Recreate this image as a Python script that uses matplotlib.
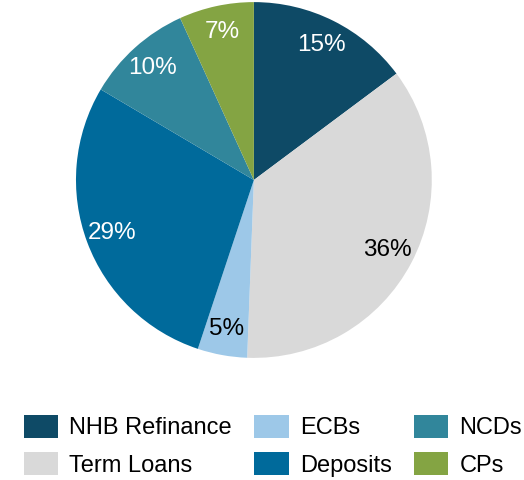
import numpy as np
import matplotlib.pyplot as plt

plt.rcParams['font.family'] = ['Liberation Sans', 'DejaVu Sans']

# funding mix (% share)
sources = ["NHB Refinance", "Term Loans", "ECBs", "Deposits", "NCDs", "CPs"]
shares = [14.8, 35.8, 4.5, 28.4, 9.7, 6.8]
share_labels = ["15%", "36%", "5%", "29%", "10%", "7%"]
colors = ["#0e4a66", "#d9d9d9", "#9dc8e8", "#006a9b", "#31869b", "#84a443"]
text_colors = ["white", "black", "black", "white", "white", "white"]

fig = plt.figure(figsize=(5.24, 4.8), dpi=100)
ax = fig.add_axes([0.145, 0.254, 0.679, 0.742])

wedges, texts = ax.pie(shares, colors=colors, startangle=90, counterclock=False,
                       radius=1.0, wedgeprops=dict(linewidth=0))
ax.set_xlim(-1, 1)
ax.set_ylim(-1, 1)
ax.set_aspect('equal')

for w, lab, tc in zip(wedges, share_labels, text_colors):
    ang = np.deg2rad((w.theta1 + w.theta2) / 2)
    r = 0.85
    ax.text(r * np.cos(ang), r * np.sin(ang), lab, ha='center', va='center',
            color=tc, fontsize=17.5)

fig.legend(wedges, sources, ncol=3, loc='upper left',
           bbox_to_anchor=(24 / 524, 1 - 415 / 480), borderpad=0, borderaxespad=0,
           frameon=False, fontsize=17, handlelength=1.45, handleheight=1.1,
           handletextpad=0.47, columnspacing=0.95, labelspacing=0.55)

fig.savefig("out.png", dpi=100)
